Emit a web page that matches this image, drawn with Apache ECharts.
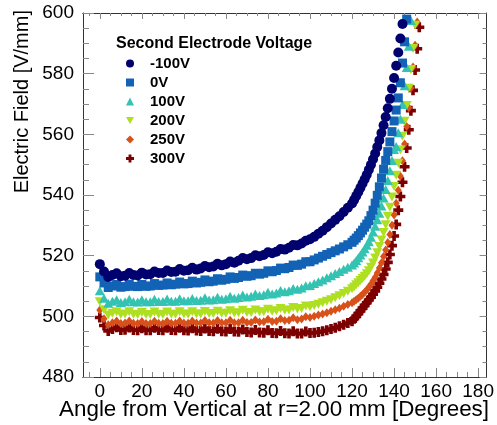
<!DOCTYPE html>
<html>
<head>
<meta charset="utf-8">
<script src="https://cdn.jsdelivr.net/npm/echarts@6/dist/echarts.min.js"></script>
<style>
  html, body { margin: 0; padding: 0; background: #fff; }
  #chart { width: 497px; height: 425px; }
</style>
</head>
<body>
<div id="chart"></div>
<script>
// ---------- data ----------
var angles = [
  0, 2, 4, 6, 8, 10, 12, 14, 16, 18,
  20, 22, 24, 26, 28, 30, 32, 34, 36, 38,
  40, 42, 44, 46, 48, 50, 52, 54, 56, 58,
  60, 62, 64, 66, 68, 70, 72, 74, 76, 78,
  80, 82, 84, 86, 88, 90, 92, 94, 96, 98,
  100, 102, 104, 106, 108, 110, 112, 114, 116, 118,
  120, 121, 122, 123, 124, 125, 126, 127, 128, 129,
  130, 131, 132, 133, 134, 135, 136, 137, 138, 139,
  140, 141, 142, 143, 144, 145, 146, 147, 148, 149,
  150, 151, 152
];

var seriesNames = ['-100V', '0V', '100V', '200V', '250V', '300V'];

var vMinus100 = [
  517.2, 514.8, 513.0, 513.6, 514.2, 513.2, 513.4, 514.3, 513.6, 513.5,
  514.4, 513.8, 513.9, 514.8, 514.3, 514.3, 515.1, 514.6, 514.7, 515.6,
  515.0, 515.2, 516.0, 515.4, 515.8, 516.6, 516.2, 516.4, 517.3, 516.8,
  517.2, 518.1, 517.7, 518.3, 519.2, 518.8, 519.2, 520.1, 519.8, 520.2,
  521.1, 520.8, 521.3, 522.2, 522.0, 522.6, 523.5, 523.4, 524.0, 524.9,
  525.4, 526.2, 527.2, 528.2, 529.4, 530.6, 531.8, 533.0, 534.4, 535.8,
  537.2, 538.4, 539.7, 541.0, 542.4, 543.8, 545.2, 546.7, 548.3, 550.0,
  551.8, 553.7, 555.8, 558.0, 560.4, 563.0, 565.7, 568.6, 571.7, 575.0,
  578.6, 582.6, 587.0, 591.6, 596.4
];

var v0 = [
  513.0, 511.0, 509.5, 510.0, 510.5, 509.6, 509.8, 510.6, 509.9, 509.8,
  510.5, 509.9, 510.0, 510.8, 510.2, 510.3, 511.0, 510.4, 510.6, 511.3,
  510.7, 510.8, 511.6, 511.0, 511.2, 512.0, 511.4, 511.6, 512.4, 511.9,
  512.2, 513.0, 512.5, 512.8, 513.6, 513.2, 513.4, 514.2, 513.9, 514.2,
  515.0, 514.7, 515.1, 515.9, 515.7, 516.1, 516.9, 516.8, 517.2, 518.0,
  518.0, 518.6, 519.2, 519.8, 520.4, 521.0, 521.6, 522.2, 522.9, 523.6,
  524.4, 525.1, 525.8, 526.6, 527.5, 528.4, 529.4, 530.4, 531.5, 533.2,
  535.0, 537.3, 539.9, 542.7, 545.6, 548.5, 551.4, 554.3, 557.5, 560.9,
  564.4, 568.0, 572.0, 577.0, 583.5, 590.5, 598.0
];

var v100 = [
  508.4, 506.0, 504.3, 505.0, 505.5, 504.6, 504.8, 505.6, 504.8, 504.7,
  505.5, 504.8, 504.8, 505.6, 504.9, 504.9, 505.7, 505.0, 505.0, 505.8,
  505.1, 505.1, 505.9, 505.2, 505.3, 506.1, 505.4, 505.5, 506.3, 505.6,
  505.8, 506.6, 506.0, 506.2, 507.0, 506.4, 506.6, 507.4, 506.9, 507.1,
  507.9, 507.4, 507.7, 508.5, 508.1, 508.4, 509.2, 508.9, 509.3, 510.1,
  510.2, 510.8, 511.4, 512.0, 512.7, 513.4, 514.1, 514.8, 515.5, 516.2,
  516.9, 517.6, 518.4, 519.3, 520.2, 521.2, 522.3, 523.4, 524.6, 526.1,
  527.8, 529.7, 531.8, 534.0, 536.4, 539.0, 541.8, 544.8, 548.0, 551.4,
  555.0, 556.0, 560.5, 565.0, 569.8, 576.0, 582.0, 589.0, 597.5
];

var v200 = [
  504.8, 502.2, 500.4, 501.0, 501.5, 500.6, 500.8, 501.5, 500.7, 500.6,
  501.3, 500.6, 500.6, 501.4, 500.7, 500.6, 501.4, 500.7, 500.7, 501.5,
  500.8, 500.7, 501.5, 500.8, 500.8, 501.6, 500.9, 500.9, 501.7, 501.0,
  501.0, 501.8, 501.1, 501.2, 502.0, 501.3, 501.3, 502.1, 501.5, 501.5,
  502.3, 501.7, 501.8, 502.6, 502.0, 502.1, 502.9, 502.4, 502.6, 503.4,
  503.2, 503.6, 504.0, 504.5, 505.0, 505.5, 506.1, 506.8, 507.5, 508.3,
  509.1, 509.7, 510.4, 511.1, 511.8, 512.5, 513.2, 514.0, 515.0, 516.2,
  517.6, 519.2, 521.0, 523.0, 525.2, 527.6, 530.2, 533.0, 536.0, 539.3,
  542.8, 546.5, 550.5, 554.8, 559.4, 564.3, 569.5, 575.2, 581.4, 588.3,
  596.0
];

var v250 = [
  502.1, 499.2, 497.2, 497.9, 498.5, 497.6, 497.8, 498.5, 497.7, 497.6,
  498.3, 497.6, 497.6, 498.4, 497.7, 497.6, 498.4, 497.7, 497.7, 498.5,
  497.8, 497.7, 498.5, 497.8, 497.8, 498.6, 497.9, 497.8, 498.6, 497.9,
  497.9, 498.7, 497.9, 497.9, 498.7, 498.0, 498.0, 498.8, 498.1, 498.2,
  499.0, 498.3, 498.4, 499.2, 498.6, 498.7, 499.5, 498.9, 499.1, 499.9,
  499.6, 500.0, 500.4, 500.8, 501.2, 501.7, 502.2, 502.7, 503.3, 503.9,
  504.5, 505.0, 505.5, 506.0, 506.6, 507.2, 507.9, 508.7, 509.6, 510.6,
  511.7, 512.9, 514.3, 515.9, 517.7, 519.7, 521.9, 524.3, 527.0, 530.0,
  533.4, 537.3, 541.6, 546.2, 551.3, 556.8, 562.6, 568.8, 575.3, 582.2,
  589.4, 597.0
];

var v300 = [
  499.6, 497.0, 495.2, 495.8, 496.4, 495.5, 495.6, 496.3, 495.5, 495.4,
  496.1, 495.4, 495.4, 496.2, 495.5, 495.4, 496.2, 495.5, 495.4, 496.2,
  495.4, 495.3, 496.1, 495.3, 495.2, 496.0, 495.2, 495.1, 495.9, 495.1,
  495.0, 495.8, 495.0, 494.9, 495.7, 494.8, 494.7, 495.5, 494.7, 494.6,
  495.4, 494.5, 494.4, 495.2, 494.4, 494.3, 495.1, 494.3, 494.3, 495.0,
  494.5, 494.6, 494.8, 495.1, 495.4, 495.8, 496.2, 496.7, 497.2, 497.8,
  498.4, 499.2, 500.0, 500.9, 501.8, 502.7, 503.6, 504.5, 505.4, 506.3,
  507.3, 508.4, 509.6, 510.9, 512.3, 513.8, 515.6, 517.8, 520.4, 523.3,
  526.5, 530.3, 535.0, 539.5, 544.2, 549.3, 555.5, 561.5, 567.8, 574.5,
  581.2, 588.2, 595.3
];

var xMajorTicks = [0, 20, 40, 60, 80, 100, 120, 140, 160, 180];
var xMinorTicks = [-5, 5, 10, 15, 25, 30, 35, 45, 50, 55, 65, 70, 75, 85, 90, 95,
  105, 110, 115, 125, 130, 135, 145, 150, 155, 165, 170, 175];
var yLabels = [480, 500, 520, 540, 560, 580, 600];

var allValues = [vMinus100, v0, v100, v200, v250, v300];
var colors = ['#00006e', '#1262b6', '#34c3b2', '#aee021', '#d8501a', '#7c0000'];
var plusPath = 'path://M3.2,0H6.8V3.2H10V6.8H6.8V10H3.2V6.8H0V3.2H3.2Z';
var downTri = 'path://M0,0L10,0L5,9Z';
var symbols = ['circle', 'rect', 'triangle', downTri, 'diamond', plusPath];
var sizes = [[10, 10], [9, 9], [10, 9], [10, 9], [7, 9], [10, 10]];

var FONT = '"Liberation Sans", Arial, Helvetica, sans-serif';

function pairs(vals) {
  var out = [];
  for (var i = 0; i < vals.length; i++) out.push([angles[i], vals[i]]);
  return out;
}

var series = allValues.map(function (vals, k) {
  return {
    name: seriesNames[k],
    type: 'scatter',
    xAxisIndex: 0,
    yAxisIndex: 0,
    data: pairs(vals),
    symbol: symbols[k],
    symbolSize: sizes[k],
    itemStyle: { color: colors[k], opacity: 1 },
    clip: true,
    z: 2 + (5 - k),
    silent: true,
    animation: false
  };
});

var AX = '#333';
var TK = '#888';

function xAx(pos, showLabel, ticks, len) {
  return {
    type: 'value', position: pos, min: -8, max: 184,
    axisLine: { show: true, onZero: false, lineStyle: { color: AX, width: 1 } },
    axisTick: { show: true, inside: true, length: len, customValues: ticks, lineStyle: { color: TK, width: 1 } },
    axisLabel: showLabel ? { show: true, customValues: xMajorTicks, color: '#000', fontSize: 19, fontFamily: FONT, margin: 5 } : { show: false },
    splitLine: { show: false }
  };
}
function yAx(pos, showLabel, len, mlen) {
  return {
    type: 'value', position: pos, min: 480, max: 600, interval: 20,
    axisLine: { show: true, onZero: false, lineStyle: { color: AX, width: 1 } },
    axisTick: { show: true, inside: true, length: len, lineStyle: { color: TK, width: 1 } },
    minorTick: { show: true, splitNumber: 4, length: mlen, lineStyle: { color: TK, width: 1 } },
    axisLabel: showLabel ? { show: true, color: '#000', fontSize: 19, fontFamily: FONT, margin: 9,
      customValues: yLabels } : { show: false },
    splitLine: { show: false }
  };
}

var chart = echarts.init(document.getElementById('chart'), null, { renderer: 'canvas' });
chart.setOption({
  animation: false,
  backgroundColor: '#fff',
  grid: { left: 83, right: 8, top: 13, bottom: 48, containLabel: false },
  xAxis: [
    xAx('bottom', true, xMajorTicks, 9),
    xAx('bottom', false, xMinorTicks, 5),
    xAx('top', false, xMajorTicks, 6),
    xAx('top', false, xMinorTicks, 3)
  ],
  yAxis: [
    yAx('left', true, 11, 6),
    yAx('right', false, 7, 4)
  ],
  legend: {
    orient: 'vertical',
    left: 126, top: 56, padding: 0,
    itemWidth: 8, itemHeight: 8, itemGap: 4,
    data: seriesNames,
    textStyle: { color: '#000', fontSize: 15, fontWeight: 'bold', fontFamily: FONT, padding: [0, 0, 0, 11] },
    selectedMode: false
  },
  graphic: [
    { type: 'text', left: 116, top: 36, style: { text: 'Second Electrode Voltage', fontSize: 16, fontWeight: 'bold', fontFamily: FONT, fill: '#000' } },
    { type: 'text', right: 8, top: 399, style: { text: 'Angle from Vertical at r=2.00 mm [Degrees]', fontSize: 22.4, fontFamily: FONT, fill: '#000' } },
    { type: 'text', x: 22, y: 10, rotation: Math.PI / 2, style: { text: 'Electric Field [V/mm]', fontSize: 20, fontFamily: FONT, fill: '#000', textAlign: 'right', textVerticalAlign: 'middle' } }
  ],
  series: series
});
</script>
</body>
</html>
